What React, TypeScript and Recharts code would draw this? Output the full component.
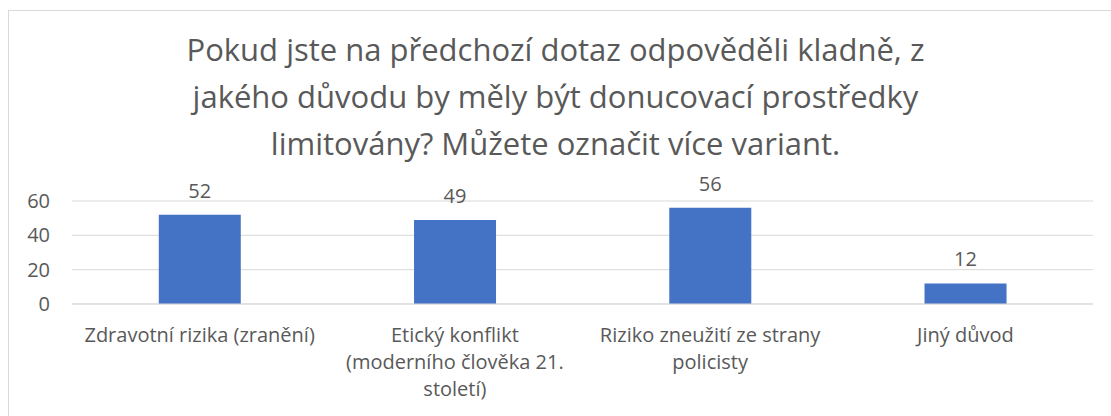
import React from 'react';
import { BarChart, Bar, XAxis, YAxis, CartesianGrid, LabelList } from 'recharts';

const categories = [
  'Zdravotní rizika (zranění)',
  'Etický konflikt\n(moderního člověka 21.\nstoletí)',
  'Riziko zneužití ze strany\npolicisty',
  'Jiný důvod',
];
const values = [52, 49, 56, 12];
const yTicks = [0, 20, 40, 60];
const titleLines = [
  'Pokud jste na předchozí dotaz odpověděli kladně, z',
  'jakého důvodu by měly být donucovací prostředky',
  'limitovány? Můžete označit více variant.',
];

const data = categories.map((c, i) => ({ name: c, value: values[i] }));

const FONT = '"Open Sans", "Noto Sans", sans-serif';
const TEXT = '#595959';

const XTick = (props: any) => {
  const { x, y, payload } = props;
  const lines = String(payload.value).split('\n');
  return (
    <g>
      {lines.map((l: string, i: number) => (
        <text key={i} x={x} y={y + 30 + i * 27} textAnchor="middle" fill={TEXT} fontSize={20} fontFamily={FONT}>
          {l}
        </text>
      ))}
    </g>
  );
};

const YTick = (props: any) => {
  const { y, payload } = props;
  return (
    <text x={50} y={y + 7} textAnchor="end" fill={TEXT} fontSize={20} fontFamily={FONT}>
      {payload.value}
    </text>
  );
};

export default function App() {
  return (
    <div style={{ position: 'absolute', left: 0, top: 0, width: 1111, height: 416, background: '#fff', overflow: 'hidden' }}>
      <div style={{ position: 'absolute', left: 8, top: 10, width: 1200, height: 500, border: '1px solid #d9d9d9', boxSizing: 'border-box' }} />
      <div style={{ position: 'absolute', left: 0, top: 26, width: 1111, textAlign: 'center', fontFamily: FONT, fontSize: 31, lineHeight: '47px', color: TEXT }}>
        {titleLines.map((t, i) => (
          <div key={i}>{t}</div>
        ))}
      </div>
      <div style={{ position: 'absolute', left: 0, top: 0 }}>
        <BarChart width={1111} height={416} data={data} margin={{ top: 201, right: 18, bottom: 82, left: 0 }} barCategoryGap="34%">
          <CartesianGrid vertical={false} stroke="#d9d9d9" strokeWidth={1} />
          <XAxis dataKey="name" height={30} axisLine={{ stroke: '#d9d9d9' }} tickLine={false} tick={<XTick />} interval={0} />
          <YAxis width={72} domain={[0, 60]} ticks={yTicks} axisLine={false} tickLine={false} tick={<YTick />} />
          <Bar dataKey="value" fill="#4472C4" isAnimationActive={false}>
            <LabelList dataKey="value" position="top" offset={17} fill={TEXT} fontSize={20} fontFamily={FONT} />
          </Bar>
        </BarChart>
      </div>
    </div>
  );
}
